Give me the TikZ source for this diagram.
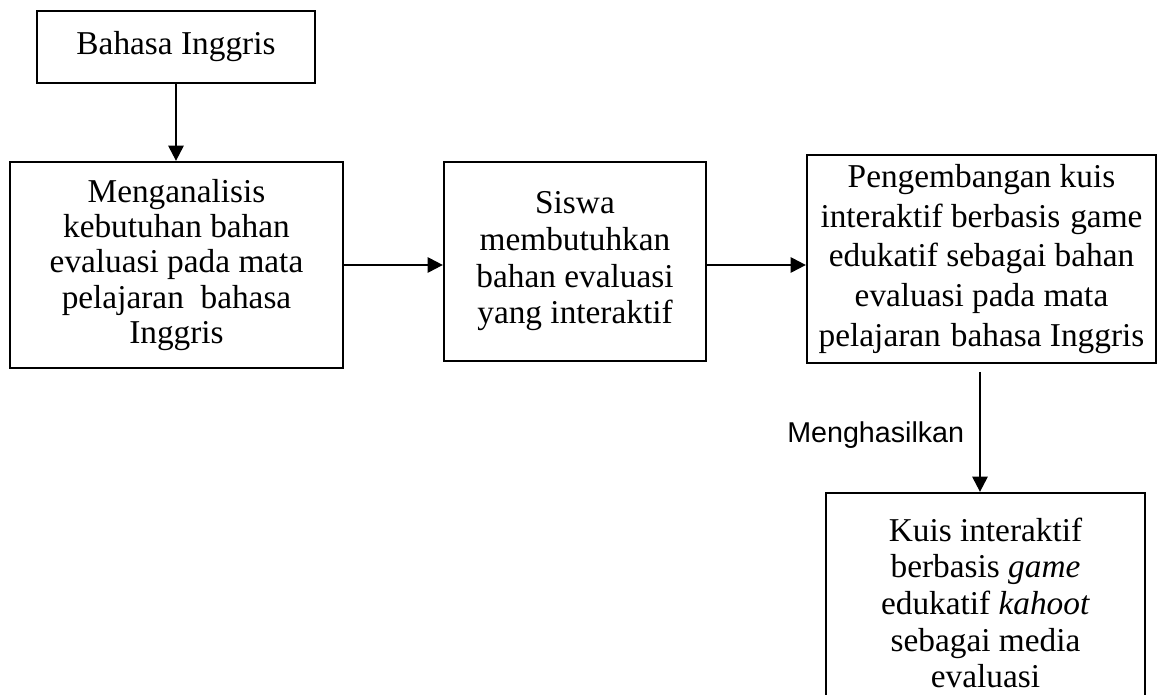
\documentclass[tikz,border=0pt]{standalone}
\usepackage{fontspec}
\setmainfont{Liberation Serif}
\newfontfamily\arialfont{Liberation Sans}
\usetikzlibrary{arrows.meta}
\begin{document}
\begin{tikzpicture}[x=0.75pt,y=-0.75pt,
  box/.style={draw, line width=1.7pt, inner sep=0pt, align=center},
  txt/.style={font=\fontsize{25}{#1}\selectfont},
  arr/.style={line width=1.7pt, -{Triangle[length=11.5pt,width=11.5pt]}}]
\useasboundingbox (0,0) rectangle (1158,695);
\node[box, txt=27pt, minimum width=208.5pt, minimum height=54pt] (b1) at (176,47) {Bahasa Inggris};
\node[box, txt=26.6pt, minimum width=249.75pt, minimum height=154.5pt] (b2) at (176.5,265)
  {Menganalisis\\kebutuhan bahan\\evaluasi pada mata\\pelajaran\ \ bahasa\\Inggris};
\node[box, txt=27.5pt, minimum width=196.5pt, minimum height=149.25pt] (b3) at (575,261.5)
  {Siswa\\membutuhkan\\bahan evaluasi\\yang interaktif};
\node[box, txt=29.7pt, minimum width=261.75pt, minimum height=156pt] (b4) at (981.5,259)
  {Pengembangan kuis\\interaktif berbasis\hspace{0.3em}game\\edukatif sebagai bahan\\evaluasi pada mata\\pelajaran\hspace{0.3em}bahasa Inggris};
\node[box, txt=27.5pt, minimum width=239.25pt, minimum height=165pt] (b5) at (985.5,603)
  {Kuis interaktif\\berbasis \textit{game}\\edukatif \textit{kahoot}\\sebagai media\\evaluasi};
\coordinate (c4) at (980,372);
\coordinate (r) at (0,265);
\draw[arr] (b1.south) -- (b1.south |- b2.north);
\draw[arr] (b2.east |- r) -- (b3.west |- r);
\draw[arr] (b3.east |- r) -- (b4.west |- r);
\draw[arr] (c4) -- (c4 |- b5.north);
\node[anchor=base west, inner sep=0pt, font=\arialfont\fontsize{21.5}{24}\selectfont] (lbl) at (787,443) {Menghasilkan};
\end{tikzpicture}
\end{document}
